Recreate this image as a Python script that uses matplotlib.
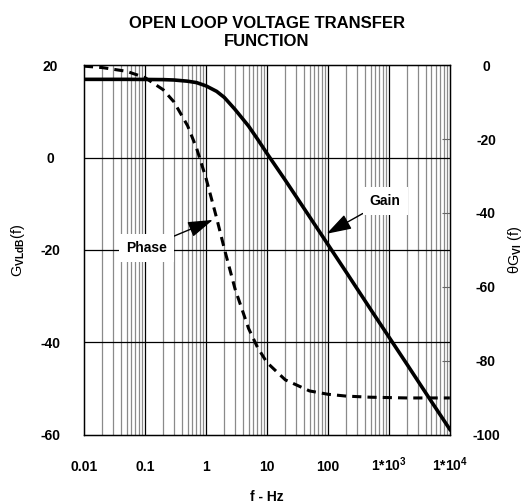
import numpy as np
import matplotlib.pyplot as plt
from matplotlib.ticker import FixedLocator, NullFormatter

plt.rcParams['font.family'] = ['Liberation Sans', 'DejaVu Sans']
plt.rcParams['font.weight'] = 'bold'
plt.rcParams['axes.unicode_minus'] = False
plt.rcParams['mathtext.fontset'] = 'custom'
plt.rcParams['mathtext.rm'] = 'Liberation Sans:bold'
plt.rcParams['mathtext.it'] = 'Liberation Sans:bold'
plt.rcParams['mathtext.bf'] = 'Liberation Sans:bold'

# data
freq = [0.01, 0.02, 0.05, 0.1, 0.2, 0.3, 0.5, 0.7, 1, 1.5, 2, 3, 5, 7, 10,
        20, 50, 100, 200, 500, 1000, 2000, 5000, 10000]
gain_db = [16.9, 16.9, 16.9, 16.88, 16.84, 16.76, 16.5, 16.2, 15.5, 14.3, 13.0,
           10.4, 6.8, 4.0, 0.9, -4.9, -12.8, -18.8, -24.8, -32.8, -38.8,
           -44.8, -52.8, -58.8]
phase_deg = [-0.3, -0.7, -1.7, -3.4, -6.7, -10.0, -16.4, -22.4, -30.5, -41.4,
             -49.6, -60.5, -71.2, -76.3, -80.4, -85.1, -88.1, -89.0, -89.5,
             -89.8, -89.9, -90.0, -90.0, -90.0]

xticks = [0.01, 0.1, 1, 10, 100, 1000, 10000]
xticklabels = ['0.01', '0.1', '1', '10', '100', '1*10$^3$', '1*10$^4$']
left_ticks = [20, 0, -20, -40, -60]
right_ticks = [0, -20, -40, -60, -80, -100]

fig = plt.figure(figsize=(5.28, 5.04), dpi=100)
ax = fig.add_axes([0.159, 0.137, 0.693, 0.734])

ax.set_xscale('log')
ax.set_xlim(0.01, 10000)
ax.set_ylim(-60, 20)

# grid
minors = [m * 10.0 ** e for e in range(-2, 4) for m in range(2, 10)]
for xm in minors:
    ax.axvline(xm, color='#8a8a8a', lw=0.9, zorder=1)
for xM in xticks[1:-1]:
    ax.axvline(xM, color='black', lw=0.9, zorder=1)
for yM in [0, -20, -40]:
    ax.axhline(yM, color='black', lw=0.9, zorder=1)

ax.plot(freq, gain_db, color='black', lw=2.6, zorder=3)

ax.xaxis.set_major_locator(FixedLocator(xticks))
ax.xaxis.set_minor_formatter(NullFormatter())
ax.set_xticks(xticks)
ax.set_xticklabels(xticklabels)
ax.set_yticks(left_ticks)
ax.tick_params(axis='x', which='both', length=0, pad=26, labelsize=10)
ax.tick_params(axis='y', length=0, pad=24, labelsize=10)
for lab in ax.get_xticklabels():
    lab.set_verticalalignment('baseline')
for lab in ax.get_yticklabels():
    lab.set_horizontalalignment('center')

ax.set_xlabel('f - Hz', fontsize=10, fontweight='bold', va='center')
ax.xaxis.set_label_coords(0.5, -0.168)
ax.set_ylabel('G$_{\\rm VLdB}$(f)', fontsize=10.5, va='center')
ax.yaxis.set_label_coords(-0.18, 0.5)
fig.text(0.5 * (0.159 + 0.852), 1 - 16 / 504,
         'OPEN LOOP VOLTAGE TRANSFER\nFUNCTION', ha='center', va='top',
         fontsize=12, fontweight='bold', linespacing=1.25)

ax2 = ax.twinx()
ax2.set_ylim(-100, 0)
ax2.plot(freq, phase_deg, color='black', lw=2.2, ls=(0, (3.0, 2.0)), zorder=3)
ax2.set_yticks(right_ticks)
ax2.tick_params(axis='y', direction='in', length=6, color='#666666',
                pad=26, labelsize=10)
for lab in ax2.get_yticklabels():
    lab.set_horizontalalignment('center')
ax2.set_ylabel('\u03b8G$_{\\rm VI}$ (f)', fontsize=10.5, va='center')
ax2.yaxis.set_label_coords(1.178, 0.5)

for sp in ax.spines.values():
    sp.set_linewidth(1.0)

arrow = dict(arrowstyle='-|>,head_width=0.35,head_length=1.1',
             color='black', lw=1.0, mutation_scale=14, shrinkA=0, shrinkB=0)
box = dict(boxstyle='square,pad=0.5', fc='white', ec='none')

ax.annotate('Phase', xy=(1.3, -13.5), xytext=(0.105, -19.5),
            ha='center', va='center', fontsize=10, fontweight='bold',
            bbox=box, arrowprops=arrow, zorder=5)
ax.annotate('Gain', xy=(95, -16.5), xytext=(870, -9.4),
            ha='center', va='center', fontsize=10, fontweight='bold',
            bbox=box, arrowprops=arrow, zorder=5)

fig.savefig('out.png', dpi=100)
